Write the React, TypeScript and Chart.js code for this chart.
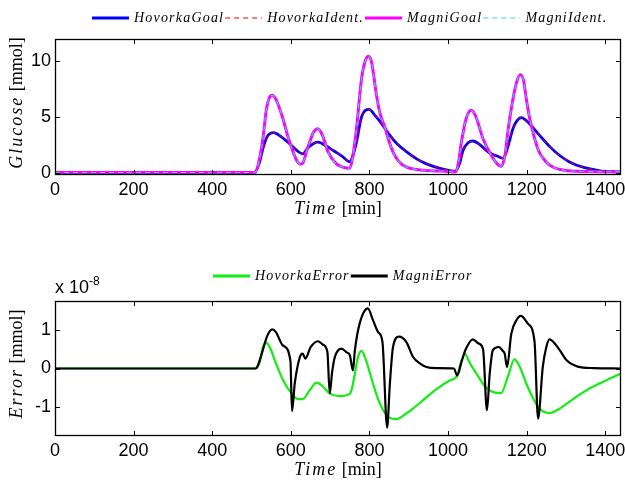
import { useEffect, useRef } from "react";
import { Chart, registerables } from "chart.js";

Chart.register(...registerables);

// ---- Glucose traces (mmol), one value per time sample (min) ----
const hovorkaTime = [
  0, 500, 508, 520, 530, 540, 556, 575, 597, 615, 630, 645, 669, 690, 710, 730, 750,
  760, 767, 780, 799, 815, 830, 852, 870, 894, 920, 945, 980, 1019, 1030, 1038, 1051,
  1063, 1080, 1097, 1110, 1125, 1140, 1152, 1165, 1175, 1186, 1200, 1216, 1233, 1260,
  1284, 1310, 1343, 1380, 1402, 1440,
];
const hovorkaGoal = [
  0.02, 0.02, 0.03, 0.9, 2.3, 3.25, 3.6, 3.25, 2.6, 2.0, 1.7, 2.3, 2.75, 2.4, 1.95, 1.5, 1.0,
  1.8, 2.75, 5.0, 5.68, 5.1, 4.45, 3.35, 2.6, 1.9, 1.25, 0.8, 0.4, 0.15, 0.9, 2.0, 2.7,
  2.85, 2.55, 2.0, 1.7, 1.5, 1.3, 2.3, 3.95, 4.65, 4.94, 4.65, 4.05, 3.35, 2.3,
  1.55, 0.95, 0.5, 0.22, 0.12, 0.06,
];
// identified model output coincides with the goal trace to within 1e-8 mmol
const hovorkaIdent = hovorkaGoal;

const magniTime = [
  0, 500, 510, 520, 530, 538, 545, 553, 562, 570, 580, 593, 606, 615, 623, 630, 640, 648,
  657, 669, 680, 695, 716, 735, 750, 757, 767, 780, 789, 797, 805, 818, 826, 839, 850,
  860, 875, 894, 920, 960, 990, 1019, 1026, 1034, 1046, 1059, 1070, 1089, 1110, 1125,
  1135, 1145, 1152, 1165, 1175, 1184, 1192, 1199, 1207, 1216, 1230, 1250, 1270, 1300,
  1340, 1380, 1440,
];
const magniGoal = [
  0.02, 0.02, 0.05, 1.2, 3.35, 5.75, 6.7, 6.95, 6.6, 5.9, 4.85, 3.2, 1.85, 1.1, 0.78, 0.85, 1.9, 2.75,
  3.6, 3.95, 3.4, 1.85, 0.8, 0.48, 0.4, 1.3, 3.95, 8.45, 10.0, 10.45, 10.0, 6.95, 5.45, 4.1, 2.8,
  1.85, 1.0, 0.5, 0.3, 0.18, 0.14, 0.1, 0.8, 2.75, 4.85, 5.6, 5.1, 3.05, 1.55, 0.8,
  0.57, 1.6, 3.65, 6.6, 8.2, 8.8, 8.3, 6.65, 5.0, 3.65, 2.0, 0.95, 0.45, 0.2,
  0.12, 0.1, 0.08,
];
const magniIdent = magniGoal;

// ---- Identification errors, in units of 1e-8 mmol ----
const ERROR_EXPONENT = "-8";

const hovorkaErrTime = [
  0, 510, 521, 529, 538, 548, 559, 580, 602, 619, 630, 648, 665, 680, 699, 724, 750, 756,
  763, 771, 780, 790, 809, 822, 835, 850, 869, 890, 910, 936, 960, 979, 1004, 1023,
  1031, 1043, 1055, 1080, 1093, 1106, 1120, 1135, 1152, 1169, 1180, 1199, 1215, 1229,
  1242, 1258, 1280, 1300, 1326, 1355, 1385, 1415, 1440,
];
const hovorkaError = [
  0, 0, 0.17, 0.56, 0.67, 0.52, 0.22, -0.3, -0.65, -0.8, -0.8, -0.57, -0.37, -0.45, -0.65, -0.72, -0.66, -0.5,
  -0.13, 0.3, 0.46, 0.25, -0.39, -0.8, -1.09, -1.28, -1.32, -1.2, -1.05, -0.83, -0.62, -0.48, -0.31, -0.2,
  0.1, 0.38, 0.15, -0.26, -0.45, -0.57, -0.63, -0.64, -0.22, 0.24, 0.1, -0.39, -0.75, -1.0,
  -1.12, -1.16, -1.07, -0.93, -0.74, -0.55, -0.39, -0.25, -0.13,
];

const magniErrTime = [
  0, 510, 515, 525, 540, 553, 562, 580, 599, 603, 610, 623, 630, 637, 650, 669, 682, 693,
  699, 705, 712, 729, 742, 750, 758, 763, 775, 796, 809, 822, 833, 845, 852, 860, 875,
  894, 911, 930, 945, 970, 1015, 1023, 1035, 1045, 1063, 1078, 1089, 1099, 1106, 1114,
  1129, 1140, 1144, 1150, 1161, 1174, 1185, 1203, 1220, 1229, 1241, 1250, 1258, 1284,
  1301, 1330, 1370, 1440,
];
const magniError = [
  0, 0, 0.05, 0.35, 0.85, 1.02, 0.95, 0.6, 0.2, -1.11, -0.39, 0.3, 0.39, 0.26, 0.55, 0.71, 0.62, 0.43,
  -0.65, -0.1, 0.3, 0.52, 0.42, 0.35, -0.05, 0.48, 1.17, 1.57, 1.26, 0.95, 0.7, -1.54, -0.39, 0.56, 0.83,
  0.69, 0.3, 0.12, 0.04, 0.01, 0, -0.18, 0.2, 0.5, 0.76, 0.65, 0.5, -1.09, -0.13, 0.48,
  0.56, 0.45, 0.39, 0.04, 0.91, 1.26, 1.37, 1.17, 0.7, -1.31, 0.04, 0.56, 0.76, 0.48,
  0.22, 0.05, 0.01, 0,
];

// ---- Axis ticks and labels ----
const timeTicks = [0, 200, 400, 600, 800, 1000, 1200, 1400];
const glucoseTicks = [0, 5, 10];
const errorTicks = [-1, 0, 1];

type Part = { text: string; italic: boolean };
const timeTitle: Part[] = [
  { text: "Time", italic: true },
  { text: " [min]", italic: false },
];
const glucoseTitle: Part[] = [
  { text: "Glucose", italic: true },
  { text: " [mmol]", italic: false },
];
const errorTitle: Part[] = [
  { text: "Error", italic: true },
  { text: " [mmol]", italic: false },
];

const SANS = '"Liberation Sans", Arial, Helvetica, sans-serif';
const SERIF = '"Liberation Serif", "Times New Roman", serif';

const toPoints = (xs: number[], ys: number[]) => xs.map((x, i) => ({ x, y: ys[i] }));

function setSerif(ctx: CanvasRenderingContext2D, italic: boolean, size: number, spacing: number) {
  ctx.font = `${italic ? "italic " : ""}${size}px ${SERIF}`;
  (ctx as any).letterSpacing = italic ? `${spacing}px` : "0px";
}

function drawParts(
  ctx: CanvasRenderingContext2D,
  parts: Part[],
  cx: number,
  cy: number,
  rotate: boolean
) {
  ctx.save();
  ctx.translate(cx, cy);
  if (rotate) ctx.rotate(-Math.PI / 2);
  ctx.textBaseline = "middle";
  ctx.textAlign = "left";
  ctx.fillStyle = "#000";
  const widths = parts.map((p) => {
    setSerif(ctx, p.italic, 18, 2);
    return ctx.measureText(p.text).width;
  });
  const total = widths.reduce((a, b) => a + b, 0);
  let x = -total / 2;
  parts.forEach((p, i) => {
    setSerif(ctx, p.italic, 18, 2);
    ctx.fillText(p.text, x, 0);
    x += widths[i];
  });
  ctx.restore();
}

// Box, inward tick marks, legend row and axis titles in the MATLAB figure style.
const figurePlugin = {
  id: "figure",
  afterDatasetsDraw(chart: any) {
    const ctx: CanvasRenderingContext2D = chart.ctx;
    const { left, right, top, bottom } = chart.chartArea;
    const xs = chart.scales.x;
    const ys = chart.scales.y;
    ctx.save();
    ctx.strokeStyle = "#000";
    ctx.lineWidth = 1;
    ctx.setLineDash([]);
    ctx.beginPath();
    const tl = 5;
    for (const t of xs.ticks) {
      const px = Math.round(xs.getPixelForValue(t.value)) + 0.5;
      ctx.moveTo(px, bottom);
      ctx.lineTo(px, bottom - tl);
      ctx.moveTo(px, top);
      ctx.lineTo(px, top + tl);
    }
    for (const t of ys.ticks) {
      const py = Math.round(ys.getPixelForValue(t.value)) + 0.5;
      ctx.moveTo(left, py);
      ctx.lineTo(left + tl, py);
      ctx.moveTo(right, py);
      ctx.lineTo(right - tl, py);
    }
    ctx.stroke();
    ctx.lineWidth = 1.3;
    ctx.strokeRect(left + 0.5, top + 0.5, right - left - 1, bottom - top - 1);
    ctx.restore();
  },
  afterDraw(chart: any, _args: any, opts: any) {
    const ctx: CanvasRenderingContext2D = chart.ctx;
    // legend row
    const lg = opts.legend;
    if (lg) {
      let x = lg.x;
      ctx.save();
      for (const ds of chart.data.datasets) {
        ctx.beginPath();
        ctx.strokeStyle = ds.borderColor;
        ctx.lineWidth = ds.borderDash ? 1.2 : 3;
        ctx.setLineDash(ds.borderDash || []);
        ctx.moveTo(x, lg.y);
        ctx.lineTo(x + lg.line, lg.y);
        ctx.stroke();
        ctx.setLineDash([]);
        x += lg.line + lg.gap;
        setSerif(ctx, true, 14, 1.2);
        ctx.fillStyle = "#000";
        ctx.textBaseline = "middle";
        ctx.textAlign = "left";
        ctx.fillText(ds.label, x, lg.y);
        x += ctx.measureText(ds.label).width + lg.after;
      }
      ctx.restore();
    }
    if (opts.xTitle) drawParts(ctx, opts.xTitle.parts, opts.xTitle.x, opts.xTitle.y, false);
    if (opts.yTitle) drawParts(ctx, opts.yTitle.parts, opts.yTitle.x, opts.yTitle.y, true);
    if (opts.exponent) {
      ctx.save();
      ctx.fillStyle = "#000";
      ctx.textBaseline = "alphabetic";
      ctx.textAlign = "left";
      ctx.font = `18px ${SANS}`;
      const base = "x 10";
      ctx.fillText(base, opts.exponent.x, opts.exponent.y);
      const w = ctx.measureText(base).width;
      ctx.font = `12px ${SANS}`;
      ctx.fillText(opts.exponent.text, opts.exponent.x + w, opts.exponent.y - 8);
      ctx.restore();
    }
  },
};

function axisOptions(
  ticks: number[],
  min: number,
  max: number,
  horizontal: boolean,
  size: number
) {
  return {
    type: "linear",
    min,
    max,
    grid: { display: false, drawTicks: false },
    border: { display: false },
    ticks: {
      color: "#000",
      font: { family: SANS, size: 18 },
      padding: 4,
      autoSkip: false,
      maxRotation: 0,
      callback: (v: number) => String(v),
    },
    afterBuildTicks: (s: any) => {
      s.ticks = ticks.map((value) => ({ value }));
    },
    afterFit: (s: any) => {
      if (horizontal) s.height = size;
      else s.width = size;
      s.paddingLeft = 0;
      s.paddingRight = 0;
      s.paddingTop = 0;
      s.paddingBottom = 0;
    },
  };
}

const W = 625;
const H = 241;

function Panel({ config }: { config: () => any }) {
  const ref = useRef<HTMLCanvasElement>(null);
  useEffect(() => {
    if (!ref.current) return;
    const chart = new Chart(ref.current, config());
    return () => chart.destroy();
  }, [config]);
  return (
    <div style={{ width: W, height: H, position: "relative" }}>
      <canvas ref={ref} width={W} height={H} style={{ display: "block" }} />
    </div>
  );
}

const baseOptions = (padTop: number) => ({
  responsive: false,
  animation: false,
  events: [],
  layout: { padding: { top: padTop, right: 4, left: 0, bottom: 0 } },
  elements: {
    point: { radius: 0 },
    line: { cubicInterpolationMode: "monotone", fill: false },
  },
});

const glucoseConfig = () => ({
  type: "line",
  data: {
    datasets: [
      { label: "HovorkaGoal", data: toPoints(hovorkaTime, hovorkaGoal), borderColor: "#0000ff", borderWidth: 2.8, order: 4 },
      { label: "HovorkaIdent.", data: toPoints(hovorkaTime, hovorkaIdent), borderColor: "#e80000", borderWidth: 1, borderDash: [5, 4], order: 3 },
      { label: "MagniGoal", data: toPoints(magniTime, magniGoal), borderColor: "#ff00ff", borderWidth: 3, order: 2 },
      { label: "MagniIdent.", data: toPoints(magniTime, magniIdent), borderColor: "#30d5e5", borderWidth: 1.1, borderDash: [5, 4], order: 1 },
    ],
  },
  options: {
    ...baseOptions(39),
    plugins: {
      legend: { display: false },
      tooltip: { enabled: false },
      figure: {
        legend: { x: 92, y: 18, line: 37, gap: 5, after: 1 },
        xTitle: { parts: timeTitle, x: 338, y: 209 },
        yTitle: { parts: glucoseTitle, x: 17, y: 103 },
      },
    },
    scales: {
      x: axisOptions(timeTicks, 0, 1440, true, H - 175),
      y: axisOptions(glucoseTicks, -0.2, 12, false, 55),
    },
  },
  plugins: [figurePlugin],
});

const errorConfig = () => ({
  type: "line",
  data: {
    datasets: [
      { label: "HovorkaError", data: toPoints(hovorkaErrTime, hovorkaError), borderColor: "#11ee11", borderWidth: 2.2, order: 2 },
      { label: "MagniError", data: toPoints(magniErrTime, magniError), borderColor: "#000000", borderWidth: 2.2, order: 1 },
    ],
  },
  options: {
    ...baseOptions(60),
    plugins: {
      legend: { display: false },
      tooltip: { enabled: false },
      figure: {
        legend: { x: 213, y: 35, line: 37, gap: 5, after: 1 },
        xTitle: { parts: timeTitle, x: 338, y: 229 },
        yTitle: { parts: errorTitle, x: 17, y: 123 },
        exponent: { x: 55, y: 52, text: ERROR_EXPONENT },
      },
    },
    scales: {
      x: axisOptions(timeTicks, 0, 1440, true, H - 195),
      y: axisOptions(errorTicks, -1.76, 1.76, false, 55),
    },
  },
  plugins: [figurePlugin],
});

export default function App() {
  return (
    <div style={{ position: "absolute", left: 0, top: 0, width: W, height: 2 * H, background: "#fff" }}>
      <Panel config={glucoseConfig} />
      <Panel config={errorConfig} />
    </div>
  );
}
